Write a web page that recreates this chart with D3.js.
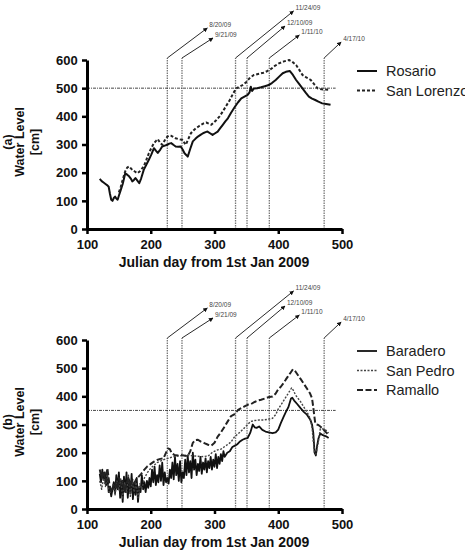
<!DOCTYPE html>
<html>
<head>
<meta charset="utf-8">
<script src="https://cdn.jsdelivr.net/npm/d3@7"></script>
<style>
  body { margin: 0; background: #fff; }
  svg text { font-family: "Liberation Sans", Arial, sans-serif; }
</style>
</head>
<body>
<div id="chart"></div>
<script>
// event dates marked by the vertical lines (julian day from 1 Jan 2009)
const eventDays = [226, 249, 333, 351, 386, 472];
const eventLabels = ["8/20/09", "9/21/09", "11/24/09", "12/10/09", "1/11/10", "4/17/10"];

const xTicks = [100, 200, 300, 400, 500];
const yTicks = [0, 100, 200, 300, 400, 500, 600];

// panel (a)
const rosario = [[120,178],[123,170],[126,165],[129,160],[132,155],[134,150],[136,125],[138,104],[140,100],[142,110],[144,115],[146,108],[148,104],[150,118],[153,139],[156,160],[160,198],[163,193],[166,187],[169,178],[171,169],[174,175],[176,181],[179,172],[182,163],[185,180],[189,210],[193,228],[197,246],[201,265],[205,287],[208,278],[211,270],[215,282],[218,293],[222,296],[226,299],[229,303],[232,305],[236,298],[239,293],[243,292],[247,293],[250,282],[253,269],[256,262],[258,257],[262,285],[266,311],[270,320],[274,328],[278,334],[282,340],[286,344],[289,346],[293,340],[297,334],[301,340],[305,346],[309,358],[313,370],[317,382],[321,393],[326,413],[332,434],[337,450],[342,464],[347,470],[352,476],[355,485],[357,505],[359,490],[362,499],[367,500],[373,503],[379,507],[385,511],[390,518],[396,529],[401,540],[407,553],[412,558],[418,561],[423,547],[428,529],[433,514],[438,499],[443,484],[448,470],[453,463],[458,458],[463,452],[469,446],[475,444],[482,441]];
const sanLorenzo = [[150,130],[153,150],[156,175],[160,205],[163,218],[166,222],[169,215],[171,210],[175,204],[179,198],[183,205],[189,222],[193,245],[197,269],[201,288],[205,305],[208,312],[211,319],[215,305],[218,299],[222,315],[226,328],[229,332],[232,331],[236,326],[239,322],[244,319],[250,316],[253,305],[255,299],[259,320],[263,340],[267,350],[271,358],[275,364],[279,370],[283,375],[287,378],[291,374],[295,370],[299,378],[303,387],[308,400],[313,417],[318,436],[324,458],[329,480],[334,499],[339,505],[344,511],[350,522],[356,538],[362,547],[370,551],[377,555],[383,561],[388,567],[394,578],[401,588],[409,595],[417,600],[422,594],[428,582],[433,565],[438,547],[444,538],[451,529],[456,515],[462,499],[468,496],[474,495],[480,494]];

// panel (b)
const baradero = [[120,125],[122,95],[124,140],[126,105],[128,130],[130,85],[132,120],[134,60],[136,75],[138,45],[140,70],[142,95],[144,55],[146,120],[148,70],[150,130],[152,40],[154,100],[156,25],[158,115],[160,60],[162,130],[164,40],[166,105],[168,55],[170,125],[172,35],[174,95],[176,50],[178,110],[180,25],[182,80],[184,60],[186,120],[188,70],[190,95],[192,60],[194,100],[196,75],[198,110],[200,80],[202,140],[204,95],[206,150],[208,85],[210,120],[212,95],[214,155],[216,100],[218,165],[220,85],[222,130],[224,95],[226,110],[228,90],[230,140],[232,110],[234,165],[236,105],[238,185],[240,120],[242,160],[244,100],[246,170],[248,95],[250,130],[252,110],[254,175],[256,120],[258,190],[260,130],[262,170],[264,110],[266,200],[268,140],[270,175],[272,120],[274,160],[276,135],[278,185],[280,125],[282,165],[284,140],[286,180],[288,130],[290,170],[292,145],[294,185],[296,140],[298,175],[300,150],[302,195],[304,145],[306,185],[308,160],[310,195],[312,170],[314,205],[316,185],[320,200],[324,205],[328,220],[332,225],[336,230],[340,240],[344,246],[348,250],[352,252],[356,270],[360,300],[363,290],[366,288],[370,293],[375,281],[380,275],[385,272],[391,269],[396,272],[400,282],[404,305],[408,325],[412,345],[416,362],[420,392],[422,395],[425,385],[430,372],[435,358],[440,345],[445,335],[450,318],[453,300],[455,270],[457,200],[459,190],[461,225],[463,250],[466,268],[470,262],[475,258],[479,252]];
const sanPedro = [[120,100],[123,70],[126,110],[129,80],[132,120],[135,55],[138,65],[141,90],[144,50],[147,100],[150,65],[153,110],[156,35],[159,95],[162,55],[165,120],[168,45],[171,100],[174,60],[177,95],[180,40],[183,90],[186,70],[190,110],[195,130],[200,145],[205,155],[210,165],[215,170],[220,175],[230,182],[240,188],[250,190],[260,190],[270,188],[280,186],[290,188],[296,200],[300,205],[305,210],[310,212],[315,220],[320,228],[326,238],[331,255],[336,265],[341,275],[347,288],[352,300],[357,311],[363,314],[370,316],[377,316],[383,318],[391,322],[396,335],[400,355],[405,372],[410,390],[415,408],[421,430],[424,420],[427,405],[431,393],[435,381],[439,366],[443,352],[447,336],[450,322],[453,290],[455,240],[457,200],[459,195],[461,215],[463,240],[466,285],[470,284],[474,281],[479,270]];
const ramallo = [[120,140],[123,110],[126,135],[129,95],[132,145],[135,90],[138,60],[141,75],[144,95],[147,70],[150,110],[153,85],[156,100],[159,60],[162,90],[165,110],[168,80],[171,105],[174,90],[177,105],[180,112],[185,125],[190,140],[195,152],[200,160],[205,168],[210,174],[215,178],[220,180],[224,200],[227,215],[230,212],[233,198],[237,192],[242,190],[247,192],[252,190],[258,188],[262,205],[266,235],[270,245],[274,246],[278,240],[284,234],[290,228],[295,225],[300,235],[305,257],[310,272],[316,293],[321,312],[326,330],[331,336],[337,352],[342,358],[347,364],[352,370],[357,372],[363,380],[368,385],[373,388],[380,393],[386,398],[391,399],[396,410],[400,425],[404,434],[408,446],[412,460],[415,470],[419,483],[423,496],[427,488],[431,475],[435,462],[440,445],[446,424],[450,410],[453,393],[455,360],[456,340],[458,305],[460,300],[463,298],[466,293],[470,285],[475,272],[479,263]];

const width = 465, height = 553;
const svg = d3.select("#chart").append("svg")
  .attr("width", width)
  .attr("height", height);

svg.append("defs").append("marker")
  .attr("id", "arrow")
  .attr("viewBox", "0 -5 10 10")
  .attr("refX", 9)
  .attr("refY", 0)
  .attr("markerWidth", 5)
  .attr("markerHeight", 5)
  .attr("orient", "auto")
  .append("path")
  .attr("d", "M0,-5L10,0L0,5")
  .attr("fill", "#111");

// arrow tip offsets from top of each vertical line (annotation layout)
const arrowOffsets = [[40, -30], [31, -20], [58, -47], [38, -32], [30, -23], [17, -16]];

function drawPanel(top, letter, series, refLevel) {
  const x = d3.scaleLinear().domain([100, 500]).range([87, 342]);
  const y = d3.scaleLinear().domain([0, 600]).range([top + 169, top]);
  const g = svg.append("g");

  // event lines + arrows
  eventDays.forEach((d, i) => {
    const vx = x(d), vy = top - 2;
    g.append("line")
      .attr("x1", vx).attr("x2", vx)
      .attr("y1", y(0)).attr("y2", vy)
      .attr("stroke", "#777")
      .attr("stroke-width", 1.3)
      .attr("stroke-dasharray", "1.5,1");
    const [dx, dy] = arrowOffsets[i];
    g.append("line")
      .attr("x1", vx).attr("y1", vy)
      .attr("x2", vx + dx).attr("y2", vy + dy)
      .attr("stroke", "#111")
      .attr("stroke-width", 0.9)
      .attr("marker-end", "url(#arrow)");
    g.append("text")
      .attr("x", vx + dx + 2)
      .attr("y", vy + dy - 1)
      .attr("font-size", "6.5px")
      .attr("fill", "#444")
      .text(eventLabels[i]);
  });

  // reference level
  g.append("line")
    .attr("x1", x(100)).attr("x2", x(490))
    .attr("y1", y(refLevel)).attr("y2", y(refLevel))
    .attr("stroke", "#333")
    .attr("stroke-width", 0.9)
    .attr("stroke-dasharray", "3,1,1,1");

  const line = d3.line().x(d => x(d[0])).y(d => y(d[1]));
  series.forEach(s => {
    g.append("path")
      .datum(s.data)
      .attr("d", line)
      .attr("fill", "none")
      .attr("stroke", s.color)
      .attr("stroke-width", s.width)
      .attr("stroke-dasharray", s.dash)
      .attr("stroke-linejoin", "round");
  });

  // axes
  const xAxis = g.append("g")
    .attr("transform", `translate(0,${y(0)})`)
    .call(d3.axisBottom(x).tickValues(xTicks).tickSize(5).tickSizeOuter(0));
  const yAxis = g.append("g")
    .attr("transform", `translate(${x(100)},0)`)
    .call(d3.axisLeft(y).tickValues(yTicks).tickSize(5).tickSizeOuter(0));
  [xAxis, yAxis].forEach(a => {
    a.select(".domain").attr("stroke", "#000").attr("stroke-width", 3);
    a.selectAll(".tick line").attr("stroke", "#000").attr("stroke-width", 2.5);
    a.selectAll(".tick text")
      .attr("fill", "#111")
      .style("font-family", "'Liberation Sans', Arial, sans-serif")
      .style("font-size", "13px")
      .style("font-weight", "bold");
  });
  xAxis.selectAll(".tick text").attr("dy", "0.9em");
  yAxis.selectAll(".tick text").attr("dx", "-0.1em");

  g.append("text")
    .attr("x", 214)
    .attr("y", y(0) + 38)
    .attr("text-anchor", "middle")
    .attr("font-size", "14px")
    .attr("font-weight", "bold")
    .attr("fill", "#111")
    .text("Julian day from 1st Jan 2009");

  const cy = top + 82;
  [["(" + letter + ")", 12], ["Water Level", 24], ["[cm]", 39]].forEach(([t, lx]) => {
    g.append("text")
      .attr("transform", `translate(${lx},${cy}) rotate(-90)`)
      .attr("text-anchor", "middle")
      .attr("font-size", "12.5px")
      .attr("font-weight", "bold")
      .attr("fill", "#111")
      .text(t);
  });

  // legend
  series.forEach((s, i) => {
    const ly = top + 11 + i * 19.5;
    g.append("line")
      .attr("x1", 357).attr("x2", 377)
      .attr("y1", ly).attr("y2", ly)
      .attr("stroke", s.color)
      .attr("stroke-width", s.width)
      .attr("stroke-dasharray", s.dash);
    g.append("text")
      .attr("x", 386)
      .attr("y", ly)
      .attr("dy", "0.35em")
      .attr("font-size", "14.5px")
      .attr("fill", "#222")
      .text(s.name);
  });
}

drawPanel(60, "a", [
  { name: "Rosario", data: rosario, color: "#111", width: 2, dash: null },
  { name: "San Lorenzo", data: sanLorenzo, color: "#222", width: 2, dash: "3,2" }
], 500);

drawPanel(340, "b", [
  { name: "Baradero", data: baradero, color: "#111", width: 1.8, dash: null },
  { name: "San Pedro", data: sanPedro, color: "#444", width: 1.4, dash: "2,1.5" },
  { name: "Ramallo", data: ramallo, color: "#222", width: 2, dash: "6,2.5" }
], 350);
</script>
</body>
</html>
